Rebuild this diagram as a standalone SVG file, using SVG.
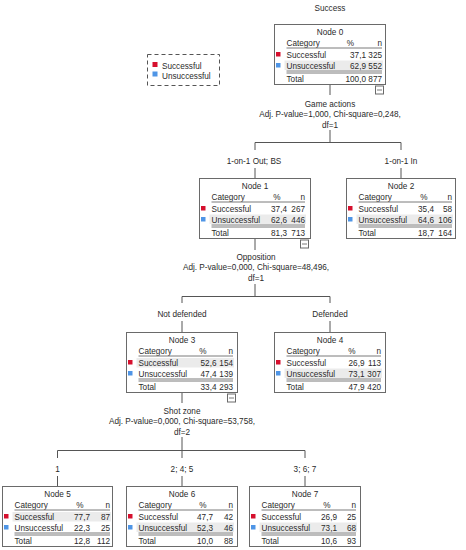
<svg xmlns="http://www.w3.org/2000/svg" width="466" height="550" viewBox="0 0 466 550">
<style>
text{font-family:"Liberation Sans",Arial,sans-serif;font-size:8.2px;fill:#2a2a2a}
.m{text-anchor:middle}
.e{text-anchor:end}
.box{fill:#fff;stroke:#6a6a6a;stroke-width:1}
.ln{stroke:#7a7a7a;stroke-width:1;fill:none}
.band{fill:#ebebeb}
.red{fill:#d6102e}
.blue{fill:#4f95e6}
.cn{stroke:#555;stroke-width:1;fill:none}
.mb{fill:#fff;stroke:#6a6a6a;stroke-width:1}
</style>
<rect width="466" height="550" fill="#fff"/>
<text class="m" x="330" y="10.5">Success</text>

<g id="legend">
<rect x="147.5" y="54.5" width="72" height="31" fill="none" stroke="#555" stroke-dasharray="4,3"/>
<rect class="red" x="152.5" y="62" width="5" height="5"/>
<text x="162" y="69">Successful</text>
<rect class="blue" x="152.5" y="71.5" width="5" height="5"/>
<text x="162" y="78.5">Unsuccessful</text>
</g>

<g id="connectors">
<path class="cn" d="M330 84.5V95 M330 130V142.5 M255 142.5H401 M255 142.5V150 M401 142.5V150 M255 168V178.5 M401 168V178.5"/>
<text class="m" x="330" y="107">Game actions</text>
<text class="m" x="330" y="117">Adj. P-value=1,000, Chi-square=0,248,</text>
<text class="m" x="330" y="127.5">df=1</text>
<text class="m" x="254" y="164">1-on-1 Out; BS</text>
<text class="m" x="401" y="164">1-on-1 In</text>
<path class="cn" d="M255 238.5V250 M255 284V296.5 M182 296.5H330 M182 296.5V303 M330 296.5V303 M182 321V332.5 M330 321V332.5"/>
<text class="m" x="256" y="260">Opposition</text>
<text class="m" x="256" y="270">Adj. P-value=0,000, Chi-square=48,496,</text>
<text class="m" x="256" y="281">df=1</text>
<text class="m" x="182" y="317">Not defended</text>
<text class="m" x="330" y="317">Defended</text>
<path class="cn" d="M182 392.5V403 M182 437V450.5 M57.5 450.5H305 M57.5 450.5V458 M182 450.5V458 M305 450.5V458 M57.5 476V486.5 M182 476V486.5 M305 476V486.5"/>
<text class="m" x="182" y="414">Shot zone</text>
<text class="m" x="182" y="424">Adj. P-value=0,000, Chi-square=53,758,</text>
<text class="m" x="182" y="435">df=2</text>
<text class="m" x="57.5" y="472">1</text>
<text class="m" x="182" y="472">2; 4; 5</text>
<text class="m" x="305" y="472">3; 6; 7</text>
</g>

<g id="node0" transform="translate(274.5,24.5)">
<rect class="box" width="111" height="60"/>
<rect class="band" x="10" y="36" width="98.5" height="9.5"/>
<text class="m" x="55.5" y="10.5">Node 0</text>
<text x="12" y="21.5">Category</text><text class="m" x="76" y="21.5">%</text><text class="e" x="107.5" y="21.5">n</text>
<path class="ln" d="M12 23.5H107.5 M12 46.5H107.5 M12 48.5H107.5"/>
<rect class="red" x="1.5" y="27.5" width="4.5" height="4.5"/>
<text x="12" y="33">Successful</text><text class="e" x="91.5" y="33">37,1</text><text class="e" x="107.5" y="33">325</text>
<rect class="blue" x="1.5" y="38.5" width="4.5" height="4.5"/>
<text x="12" y="44">Unsuccessful</text><text class="e" x="91.5" y="44">62,9</text><text class="e" x="107.5" y="44">552</text>
<text x="12" y="57.5">Total</text><text class="e" x="91.5" y="57.5">100,0</text><text class="e" x="107.5" y="57.5">877</text>
<rect class="mb" x="101" y="61.5" width="8" height="8"/><path class="ln" d="M102.5 65.5H107.5"/>
</g>

<g id="node1" transform="translate(199.5,178.5)">
<rect class="box" width="111" height="60"/>
<rect class="band" x="10" y="36" width="96.5" height="9.5"/>
<text class="m" x="55.5" y="10.5">Node 1</text>
<text x="12" y="21.5">Category</text><text class="m" x="77.5" y="21.5">%</text><text class="e" x="105.5" y="21.5">n</text>
<path class="ln" d="M12 23.5H105.5 M12 46.5H105.5 M12 48.5H105.5"/>
<rect class="red" x="1.5" y="27.5" width="4.5" height="4.5"/>
<text x="12" y="33">Successful</text><text class="e" x="87.5" y="33">37,4</text><text class="e" x="105.5" y="33">267</text>
<rect class="blue" x="1.5" y="38.5" width="4.5" height="4.5"/>
<text x="12" y="44">Unsuccessful</text><text class="e" x="87.5" y="44">62,6</text><text class="e" x="105.5" y="44">446</text>
<text x="12" y="57.5">Total</text><text class="e" x="87.5" y="57.5">81,3</text><text class="e" x="105.5" y="57.5">713</text>
<rect class="mb" x="101" y="61.5" width="8" height="8"/><path class="ln" d="M102.5 65.5H107.5"/>
</g>

<g id="node2" transform="translate(346.5,178.5)">
<rect class="box" width="109" height="60"/>
<rect class="band" x="10" y="36" width="96.5" height="9.5"/>
<text class="m" x="54.5" y="10.5">Node 2</text>
<text x="12" y="21.5">Category</text><text class="m" x="77.5" y="21.5">%</text><text class="e" x="105.5" y="21.5">n</text>
<path class="ln" d="M12 23.5H105.5 M12 46.5H105.5 M12 48.5H105.5"/>
<rect class="red" x="1.5" y="27.5" width="4.5" height="4.5"/>
<text x="12" y="33">Successful</text><text class="e" x="87.5" y="33">35,4</text><text class="e" x="105.5" y="33">58</text>
<rect class="blue" x="1.5" y="38.5" width="4.5" height="4.5"/>
<text x="12" y="44">Unsuccessful</text><text class="e" x="87.5" y="44">64,6</text><text class="e" x="105.5" y="44">106</text>
<text x="12" y="57.5">Total</text><text class="e" x="87.5" y="57.5">18,7</text><text class="e" x="105.5" y="57.5">164</text>
</g>

<g id="node3" transform="translate(126.5,332.5)">
<rect class="box" width="111" height="60"/>
<rect class="band" x="10" y="25.5" width="97.5" height="9.5"/>
<text class="m" x="55.5" y="10.5">Node 3</text>
<text x="12" y="21.5">Category</text><text class="m" x="76.5" y="21.5">%</text><text class="e" x="106.5" y="21.5">n</text>
<path class="ln" d="M12 23.5H106.5 M12 46.5H106.5 M12 48.5H106.5"/>
<rect class="red" x="1.5" y="27.5" width="4.5" height="4.5"/>
<text x="12" y="33">Successful</text><text class="e" x="90" y="33">52,6</text><text class="e" x="106.5" y="33">154</text>
<rect class="blue" x="1.5" y="38.5" width="4.5" height="4.5"/>
<text x="12" y="44">Unsuccessful</text><text class="e" x="90" y="44">47,4</text><text class="e" x="106.5" y="44">139</text>
<text x="12" y="57.5">Total</text><text class="e" x="90" y="57.5">33,4</text><text class="e" x="106.5" y="57.5">293</text>
<rect class="mb" x="101" y="61.5" width="8" height="8"/><path class="ln" d="M102.5 65.5H107.5"/>
</g>

<g id="node4" transform="translate(274.5,332.5)">
<rect class="box" width="111" height="60"/>
<rect class="band" x="10" y="36" width="97.5" height="9.5"/>
<text class="m" x="55.5" y="10.5">Node 4</text>
<text x="12" y="21.5">Category</text><text class="m" x="77.5" y="21.5">%</text><text class="e" x="106.5" y="21.5">n</text>
<path class="ln" d="M12 23.5H106.5 M12 46.5H106.5 M12 48.5H106.5"/>
<rect class="red" x="1.5" y="27.5" width="4.5" height="4.5"/>
<text x="12" y="33">Successful</text><text class="e" x="90" y="33">26,9</text><text class="e" x="106.5" y="33">113</text>
<rect class="blue" x="1.5" y="38.5" width="4.5" height="4.5"/>
<text x="12" y="44">Unsuccessful</text><text class="e" x="90" y="44">73,1</text><text class="e" x="106.5" y="44">307</text>
<text x="12" y="57.5">Total</text><text class="e" x="90" y="57.5">47,9</text><text class="e" x="106.5" y="57.5">420</text>
</g>

<g id="node5" transform="translate(2.5,486.5)">
<rect class="box" width="110" height="60"/>
<rect class="band" x="10" y="25.5" width="98.5" height="9.5"/>
<text class="m" x="55" y="10.5">Node 5</text>
<text x="12" y="21.5">Category</text><text class="m" x="77.5" y="21.5">%</text><text class="e" x="107.5" y="21.5">n</text>
<path class="ln" d="M12 23.5H107.5 M12 46.5H107.5 M12 48.5H107.5"/>
<rect class="red" x="1.5" y="27.5" width="4.5" height="4.5"/>
<text x="12" y="33">Successful</text><text class="e" x="87.5" y="33">77,7</text><text class="e" x="107.5" y="33">87</text>
<rect class="blue" x="1.5" y="38.5" width="4.5" height="4.5"/>
<text x="12" y="44">Unsuccessful</text><text class="e" x="87.5" y="44">22,3</text><text class="e" x="107.5" y="44">25</text>
<text x="12" y="57.5">Total</text><text class="e" x="87.5" y="57.5">12,8</text><text class="e" x="107.5" y="57.5">112</text>
</g>

<g id="node6" transform="translate(126.5,486.5)">
<rect class="box" width="111" height="60"/>
<rect class="band" x="10" y="36" width="97.5" height="9.5"/>
<text class="m" x="55.5" y="10.5">Node 6</text>
<text x="12" y="21.5">Category</text><text class="m" x="76.5" y="21.5">%</text><text class="e" x="106.5" y="21.5">n</text>
<path class="ln" d="M12 23.5H106.5 M12 46.5H106.5 M12 48.5H106.5"/>
<rect class="red" x="1.5" y="27.5" width="4.5" height="4.5"/>
<text x="12" y="33">Successful</text><text class="e" x="86.5" y="33">47,7</text><text class="e" x="106.5" y="33">42</text>
<rect class="blue" x="1.5" y="38.5" width="4.5" height="4.5"/>
<text x="12" y="44">Unsuccessful</text><text class="e" x="86.5" y="44">52,3</text><text class="e" x="106.5" y="44">46</text>
<text x="12" y="57.5">Total</text><text class="e" x="86.5" y="57.5">10,0</text><text class="e" x="106.5" y="57.5">88</text>
</g>

<g id="node7" transform="translate(249.5,486.5)">
<rect class="box" width="111" height="60"/>
<rect class="band" x="10" y="36" width="97.5" height="9.5"/>
<text class="m" x="55.5" y="10.5">Node 7</text>
<text x="12" y="21.5">Category</text><text class="m" x="77.5" y="21.5">%</text><text class="e" x="106.5" y="21.5">n</text>
<path class="ln" d="M12 23.5H106.5 M12 46.5H106.5 M12 48.5H106.5"/>
<rect class="red" x="1.5" y="27.5" width="4.5" height="4.5"/>
<text x="12" y="33">Successful</text><text class="e" x="87.5" y="33">26,9</text><text class="e" x="106.5" y="33">25</text>
<rect class="blue" x="1.5" y="38.5" width="4.5" height="4.5"/>
<text x="12" y="44">Unsuccessful</text><text class="e" x="87.5" y="44">73,1</text><text class="e" x="106.5" y="44">68</text>
<text x="12" y="57.5">Total</text><text class="e" x="87.5" y="57.5">10,6</text><text class="e" x="106.5" y="57.5">93</text>
</g>
</svg>
